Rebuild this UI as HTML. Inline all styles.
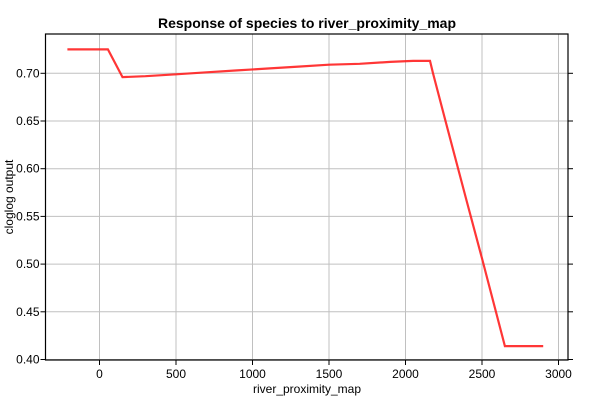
<!DOCTYPE html>
<html><head><meta charset="utf-8"><style>
body{margin:0;background:#fff;font-family:"Liberation Sans",sans-serif}
svg text{font-family:"Liberation Sans",sans-serif}
</style></head><body>
<svg width="600" height="400">
<rect x="0" y="0" width="600" height="400" fill="#fff"/>
<text x="307" y="28" text-anchor="middle" font-weight="bold" font-size="14">Response of species to river_proximity_map</text>
<g id="grid"></g>
<g id="ticks"></g>
<path id="line" fill="none" stroke="#ff2020" stroke-width="2.2" stroke-opacity="0.9"/>
<rect x="45.5" y="34" width="522.5" height="326" fill="none" stroke="#000" stroke-width="1.2"/>
<text x="307" y="393" text-anchor="middle" font-size="12">river_proximity_map</text>
<text transform="translate(13,197) rotate(-90)" text-anchor="middle" font-size="12">cloglog output</text>
</svg>
<script>
const xTicks=[0,500,1000,1500,2000,2500,3000];
const yTicks=[0.40,0.45,0.50,0.55,0.60,0.65,0.70];
const xs=[-210,55,150,300,500,700,900,1100,1300,1500,1700,1900,2050,2160,2180,2265,2400,2500,2650,2900];
const ys=[0.725,0.725,0.696,0.697,0.699,0.701,0.703,0.705,0.707,0.709,0.710,0.712,0.713,0.713,0.700,0.648,0.566,0.506,0.414,0.414];
const L=45.5,R=568,T=34,B=360;
const X=v=>99.5+v*0.153;
const Y=v=>73.3+(0.70-v)*954;
const ns="http://www.w3.org/2000/svg";
const grid=document.getElementById('grid'),ticks=document.getElementById('ticks');
function mk(tag,attrs,parent){const e=document.createElementNS(ns,tag);for(const k in attrs)e.setAttribute(k,attrs[k]);parent.appendChild(e);return e;}
xTicks.forEach(t=>{const x=X(t);
const g=mk('line',{x1:x,x2:x,y1:T,y2:B,stroke:'#c0c0c0'},grid);


const k=mk('line',{x1:x,x2:x,y1:B,y2:B+5,stroke:'#000'},ticks);


const tx=mk('text',{x:x,y:B+18,'text-anchor':'middle','font-size':12},ticks);tx.textContent=t;


});
yTicks.forEach(t=>{const y=Y(t);
const g=mk('line',{x1:L,x2:R,y1:y,y2:y,stroke:'#c0c0c0'},grid);


const k=mk('line',{x1:L-5,x2:L,y1:y,y2:y,stroke:'#000'},ticks);


const k2=mk('line',{x1:R,x2:R+5,y1:y,y2:y,stroke:'#000'},ticks);


const tx=mk('text',{x:L-6,y:y+4,'text-anchor':'end','font-size':12},ticks);tx.textContent=t.toFixed(2);


});
document.getElementById('line').setAttribute('d',xs.map((v,i)=>(i?'L':'M')+X(v).toFixed(1)+','+Y(ys[i]).toFixed(1)).join(''));
</script>
</body></html>
